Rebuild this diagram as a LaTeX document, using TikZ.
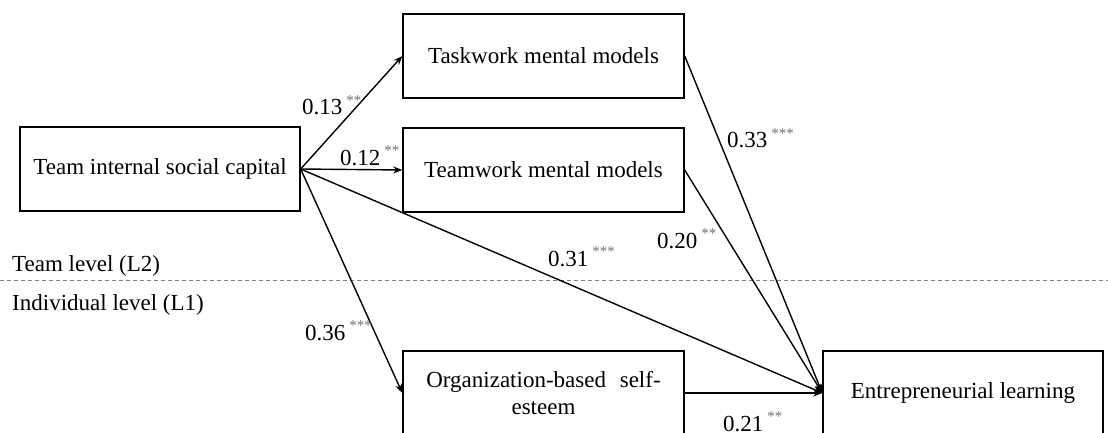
\documentclass[tikz,border=0pt]{standalone}
\usepackage{fontspec}
\setmainfont{Liberation Serif}
\usetikzlibrary{arrows.meta}
\definecolor{stargray}{gray}{0.45}
\newcommand\sigstars[1]{\,\textcolor{stargray}{\raisebox{0.42em}{\fontsize{15}{15}\selectfont #1}}}
\begin{document}
\begin{tikzpicture}[x=1pt,y=-1pt,
  box/.style={draw, line width=1.4pt, minimum width=281pt, minimum height=84pt, inner sep=0pt, align=center, font=\fontsize{23}{27}\selectfont},
  conn/.style={line width=1.4pt, -{Stealth[length=9pt,width=7pt]}},
  coef/.style={anchor=base west, inner sep=0pt, font=\fontsize{23}{25}\selectfont},
  lvl/.style={anchor=base west, inner sep=0pt, font=\fontsize{23}{25}\selectfont},
  sep/.style={draw=gray, line width=1pt, dash pattern=on 4pt off 3pt}]
\useasboundingbox (0,0) rectangle (1108,433);
\fill[white] (0,0) rectangle (1108,433);

\node[box, minimum width=280pt] (tisc) at (160,169) {Team internal social capital};
\node[box] (task) at (543.5,56) {Taskwork mental models};
\node[box] (team) at (543.5,170) {Teamwork mental models};
\node[box] (org) at (543.5,393) {Organization-based\hspace{0.35em} self-\\esteem};
\node[box, minimum width=280pt] (ent) at (963,393) {Entrepreneurial learning};

\coordinate (dl) at (0,280);
\coordinate (dr) at (1108,280);
\draw[sep] (dl) -- (dr);

\node[lvl] (l2) at (12,271) {Team level (L2)};
\node[lvl] (l1) at (12,310) {Individual level (L1)};

\draw[conn] (tisc.east) -- (task.west);
\draw[conn] (tisc.east) -- (team.west);
\draw[conn] (tisc.east) -- (org.west);
\draw[conn] (tisc.east) -- (ent.west);
\draw[conn] (task.east) -- (ent.west);
\draw[conn] (team.east) -- (ent.west);
\draw[conn] (org.east) -- (ent.west);

\node[coef] (c13) at (302,115) {0.13\sigstars{**}};
\node[coef] (c12) at (340,165) {0.12\sigstars{**}};
\node[coef] (c33) at (727,148) {0.33\sigstars{***}};
\node[coef] (c20) at (657,248) {0.20\sigstars{**}};
\node[coef] (c31) at (548,266) {0.31\sigstars{***}};
\node[coef] (c36) at (305,340) {0.36\sigstars{***}};
\node[coef] (c21) at (723,431) {0.21\sigstars{**}};
\end{tikzpicture}
\end{document}
